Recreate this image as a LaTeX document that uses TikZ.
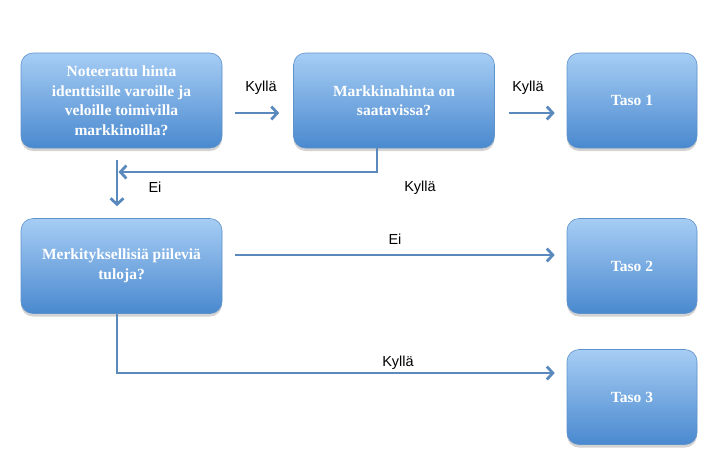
\documentclass[tikz,border=0pt]{standalone}
\usepackage{fontspec}
\setmainfont{Liberation Serif}
\newfontfamily\selitefont{Liberation Sans}
\usetikzlibrary{arrows.meta,shadows}

\definecolor{ylavari}{HTML}{A6CDF4}
\definecolor{alavari}{HTML}{4A89CF}
\definecolor{reuna}{HTML}{5E92CB}
\definecolor{nuolivari}{HTML}{5A89BD}

\begin{document}
\begin{tikzpicture}
  [
    x=1pt, y=-1pt,
    % laatikoiden ja nuolten tyylit
    laatikko/.style={rectangle, rounded corners=12pt, draw=reuna, line width=0.6pt,
      top color=ylavari, bottom color=alavari, text=white,
      font=\fontsize{15.5}{19.5}\selectfont\bfseries, align=center,
      minimum width=201pt, minimum height=95pt, inner sep=0pt,
      drop shadow={shadow xshift=0pt, shadow yshift=-3pt, opacity=0.35}},
    taso/.style={laatikko, minimum width=130pt},
    nuoli/.style={draw=nuolivari, line width=2.8pt, -{Straight Barb[length=6pt, width=13pt]}},
    selite/.style={font=\selitefont\fontsize{14.5}{16}\selectfont, inner sep=0pt}
  ]
  \useasboundingbox (0,0) rectangle (712,459);

  \node[laatikko] (a) at (121.5,100.5) {Noteerattu hinta\\identtisille varoille ja\\veloille toimivilla\\markkinoilla?};
  \node[laatikko] (b) at (394,100.5) {Markkinahinta on\\saatavissa?};
  \node[taso] (t1) at (632,100.5) {Taso 1};
  \node[laatikko] (c) at (121.5,266) {Merkityksellisiä piileviä\\tuloja?};
  \node[taso] (t2) at (632,266) {Taso 2};
  \node[taso] (t3) at (632,397) {Taso 3};

  \coordinate (risteys) at (117,172);
  \coordinate (alku) at (117,160);

  \draw[nuoli, shorten <=13pt, shorten >=14pt] ([yshift=-12.5pt]a.east) -- ([yshift=-12.5pt]b.west);
  \draw[nuoli, shorten <=14pt, shorten >=12pt] ([yshift=-12.5pt]b.east) -- ([yshift=-12.5pt]t1.west);
  \draw[nuoli, shorten >=1.5pt] ([xshift=-17pt]b.south) |- (risteys);
  \draw[nuoli, shorten >=12pt] (alku) -- ([xshift=-4.5pt]c.north);
  \draw[nuoli, shorten <=13pt, shorten >=12pt] ([yshift=11pt]c.east) -- ([yshift=11pt]t2.west);
  \draw[nuoli, shorten >=12pt] ([xshift=-4.5pt]c.south) |- ([yshift=24pt]t3.west);

  \node[selite] (k1) at (261,88) {Kyllä};
  \node[selite] (k2) at (528,88) {Kyllä};
  \node[selite] (e1) at (155,187) {Ei};
  \node[selite] (k3) at (420,188) {Kyllä};
  \node[selite] (e2) at (395,239) {Ei};
  \node[selite] (k4) at (398,363) {Kyllä};
\end{tikzpicture}
\end{document}
